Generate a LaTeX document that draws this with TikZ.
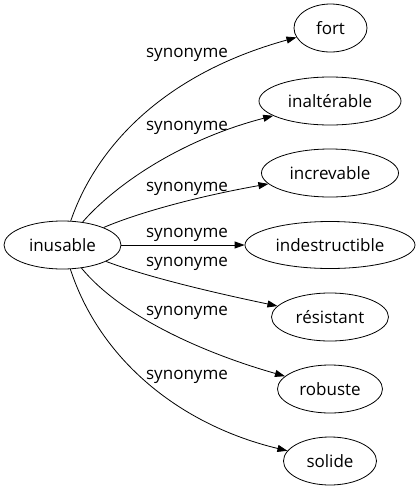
\documentclass[tikz,border=0pt]{standalone}
\usepackage{fontspec}
\setmainfont{Open Sans}
\usetikzlibrary{arrows.meta,shapes.geometric}
\begin{document}
\begin{tikzpicture}[x=1pt,y=-1pt,
  word/.style={draw,ellipse,line width=0.8pt,inner sep=0pt,font=\fontsize{17}{20}\selectfont},
  lab/.style={inner sep=0pt,font=\fontsize{17}{20}\selectfont},
  syn/.style={draw,line width=0.8pt,-{Triangle[length=10pt,width=7pt]}}]
\useasboundingbox (0,0) rectangle (420,491);
\node[word,minimum width=117pt,minimum height=48pt] (inusable) at (62.5,245) {inusable};
\node[word,minimum width=73pt,minimum height=48pt] (fort) at (330.5,28) {fort};
\node[word,minimum width=142pt,minimum height=48pt] (inalterable) at (330,101) {inaltérable};
\node[word,minimum width=137pt,minimum height=48pt] (increvable) at (330,173) {increvable};
\node[word,minimum width=170pt,minimum height=47pt] (indestructible) at (330,245) {indestructible};
\node[word,minimum width=117pt,minimum height=48pt] (resistant) at (330,317) {résistant};
\node[word,minimum width=105pt,minimum height=48pt] (robuste) at (330,389) {robuste};
\node[word,minimum width=93pt,minimum height=48pt] (solide) at (330,461) {solide};
\node[lab] (l1) at (187,55) {synonyme};
\node[lab] (l2) at (187,128) {synonyme};
\node[lab] (l3) at (187,189) {synonyme};
\node[lab] (l4) at (187,235) {synonyme};
\node[lab] (l5) at (187,264) {synonyme};
\node[lab] (l6) at (187,313) {synonyme};
\node[lab] (l7) at (187,377) {synonyme};
\draw[syn] (inusable) .. controls (95,150) and (160,75) .. (fort);
\draw[syn] (inusable) .. controls (115,185) and (180,140) .. (inalterable);
\draw[syn] (inusable) .. controls (140,212) and (200,196) .. (increvable);
\draw[syn] (inusable) -- (indestructible);
\draw[syn] (inusable) .. controls (150,278) and (220,294) .. (resistant);
\draw[syn] (inusable) .. controls (120,315) and (200,352) .. (robuste);
\draw[syn] (inusable) .. controls (100,360) and (180,425) .. (solide);
\end{tikzpicture}
\end{document}
